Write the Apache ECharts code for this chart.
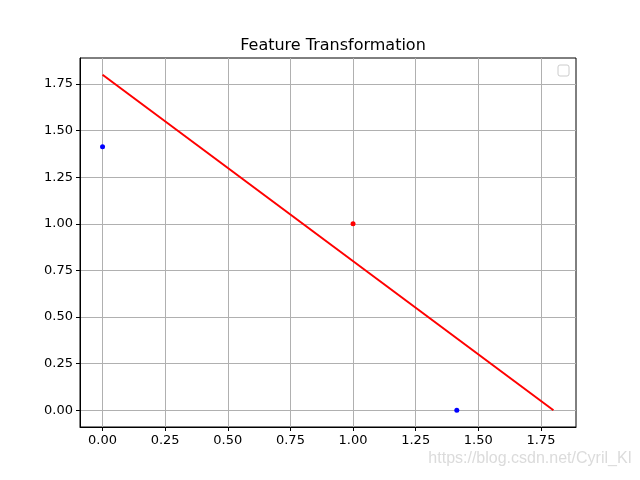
<!DOCTYPE html>
<html>
<head>
<meta charset="utf-8">
<script src="https://cdn.jsdelivr.net/npm/echarts@6/dist/echarts.min.js"></script>
<style>
  html, body { margin: 0; padding: 0; background: #fff; }
  #chart { width: 640px; height: 480px; }
</style>
</head>
<body>
<div id="chart"></div>
<script>
// data
const tickValues = [0, 0.25, 0.5, 0.75, 1.0, 1.25, 1.5, 1.75];
const bluePoints = [[0, 1.4142], [1.4142, 0]];
const redPoints = [[1, 1]];
const boundary = [[0, 1.8], [1.8, 0]];

let chart = echarts.init(document.getElementById('chart'));

function axis(pos) {
    return {
        type: 'value',
        position: pos,
        min: -0.09,
        max: 1.89,
        axisLine: { show: true, onZero: false, lineStyle: { color: '#000', width: 1 } },
        axisTick: {
            show: true,
            inside: false,
            length: 4,
            customValues: tickValues,
            lineStyle: { color: '#000', width: 1 }
        },
        axisLabel: {
            customValues: tickValues,
            formatter: v => v.toFixed(2),
            color: '#000',
            fontFamily: 'DejaVu Sans',
            fontSize: 13,
            margin: 7
        },
        splitLine: {
            show: true,
            lineStyle: { color: '#b0b0b0', width: 1 }
        }
    };
}

let option = {
    animation: false,
    backgroundColor: '#fff',
    title: {
        text: 'Feature Transformation',
        left: 328,
        textAlign: 'center',
        top: 33,
        textStyle: { fontFamily: 'DejaVu Sans', fontSize: 16, fontWeight: 'normal', color: '#000' }
    },
    grid: {
        left: 80, right: 64, top: 58, bottom: 53,
        show: true,
        borderColor: '#000',
        borderWidth: 1,
        backgroundColor: 'transparent'
    },
    xAxis: axis('bottom'),
    yAxis: axis('left'),
    series: [
        {
            type: 'line',
            data: boundary,
            showSymbol: false,
            lineStyle: { color: '#ff0000', width: 2 },
            z: 3
        },
        {
            type: 'scatter',
            data: bluePoints,
            symbolSize: 5,
            itemStyle: { color: '#0000ff', opacity: 1 },
            z: 4
        },
        {
            type: 'scatter',
            data: redPoints,
            symbolSize: 5,
            itemStyle: { color: '#ff0000', opacity: 1 },
            z: 4
        }
    ],
    graphic: [
        {
            type: 'rect',
            shape: { x: 558, y: 65, width: 11, height: 11, r: 2 },
            style: { fill: '#fff', stroke: '#cccccc', lineWidth: 1 },
            z: 10
        },
        {
            type: 'text',
            right: 8,
            top: 451,
            style: {
                text: 'https://blog.csdn.net/Cyril_KI',
                fill: 'rgba(215,215,215,0.9)',
                font: '16px "Liberation Sans", sans-serif'
            },
            z: 10
        }
    ]
};
chart.setOption(option, true);
</script>
</body>
</html>
